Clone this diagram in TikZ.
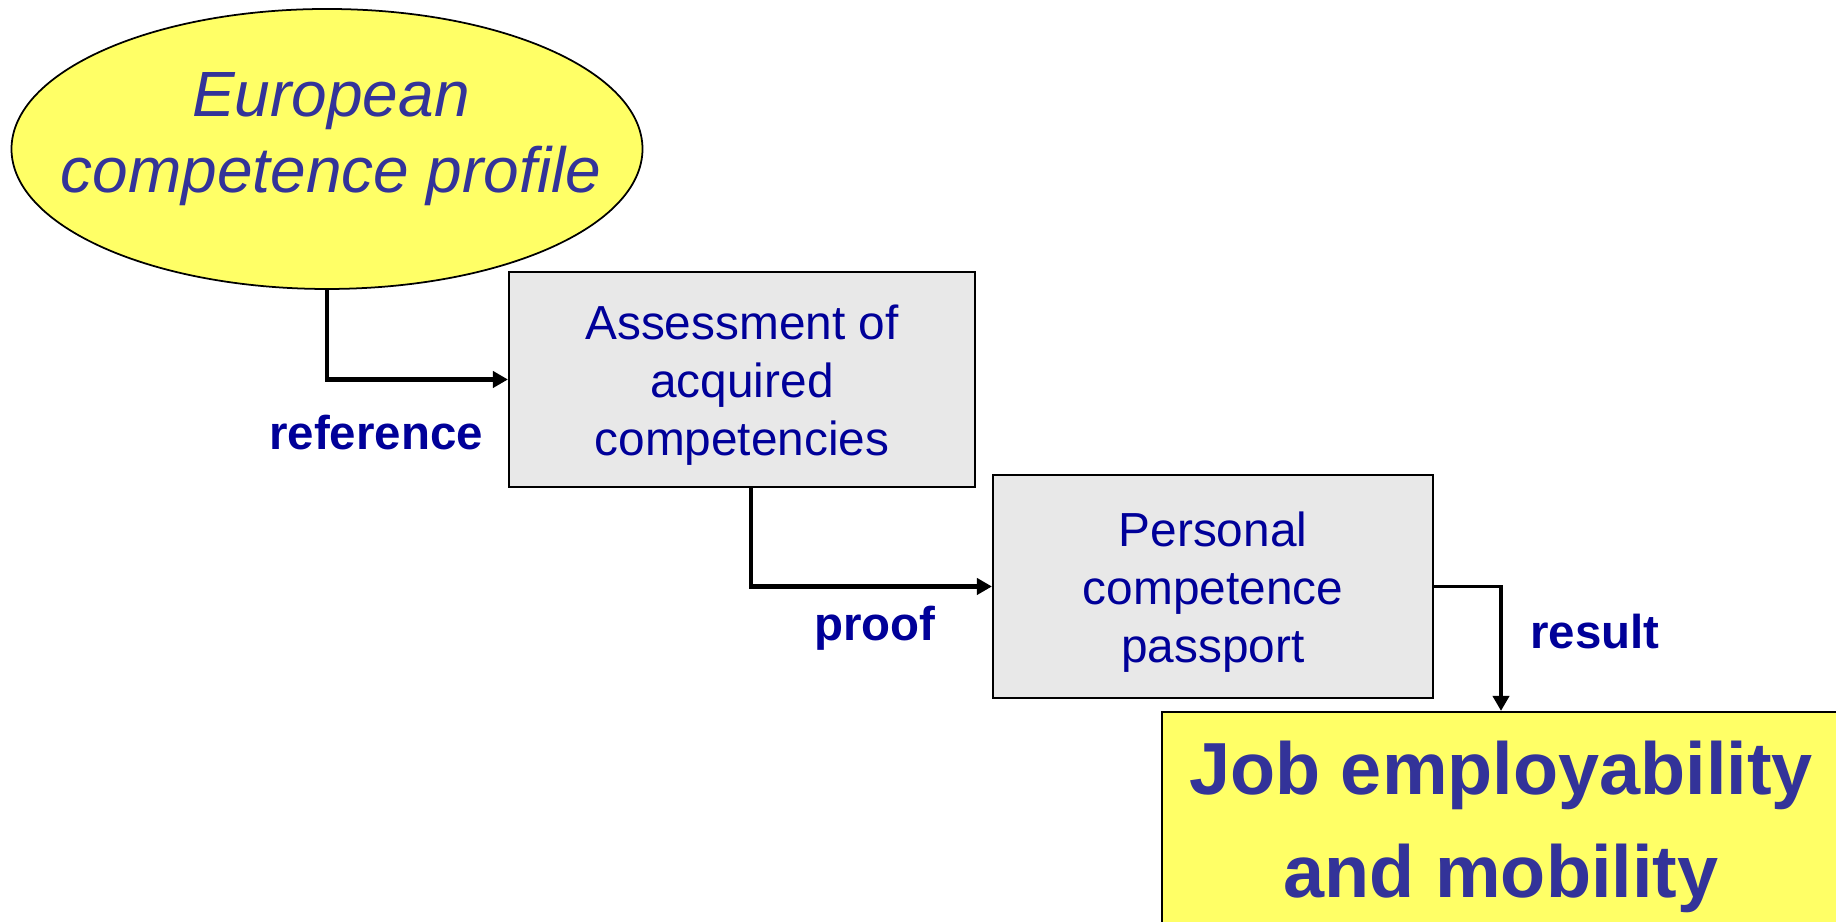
\documentclass[tikz,border=0pt]{standalone}
\usepackage{fontspec}
\setmainfont{Liberation Sans}
\usetikzlibrary{shapes.geometric,arrows.meta}
\definecolor{lightyellow}{HTML}{FFFF66}
\definecolor{boxgray}{HTML}{E8E8E8}
\definecolor{purpleblue}{HTML}{333399}
\definecolor{navy}{HTML}{000099}
\tikzset{
  stage/.style={draw, line width=0.6pt, fill=boxgray, inner sep=0pt},
  stagetext/.style={text=navy, align=center, yshift=-0.06cm,
    font=\fontsize{13.6}{16.5}\selectfont},
  tag/.style={text=navy, font=\fontsize{13.5}{16}\selectfont\bfseries},
  link/.style={line width=1.4pt, -{Triangle[length=4.3pt,width=4.6pt]}}
}
\begin{document}
\begin{tikzpicture}
\useasboundingbox (0,0) rectangle (18.36,9.22);

% profile ellipse
\node[ellipse, draw, line width=0.5pt, fill=lightyellow, minimum width=6.31cm,
  minimum height=2.80cm, inner sep=0pt] (profile) at (3.27,7.73) {};
\node[text=purpleblue, align=center, font=\fontsize{18.2}{21.6}\selectfont\itshape]
  (profiletext) at (3.31,7.83) {European\\competence profile};

% the two steps
\node[stage, minimum width=4.66cm, minimum height=2.15cm,
  label={[stagetext]center:{Assessment of\\acquired\\competencies}}]
  (assess) at (7.42,5.425) {};
\node[stage, minimum width=4.40cm, minimum height=2.23cm,
  label={[stagetext]center:{Personal\\competence\\passport}}]
  (passport) at (12.13,3.355) {};

% outcome (runs off the page)
\node[draw, line width=0.6pt, fill=lightyellow, inner sep=0pt,
  minimum width=6.78cm, minimum height=2.18cm,
  label={[text=purpleblue, align=center, yshift=-0.06cm,
    font=\fontsize{21}{29.3}\selectfont\bfseries]center:{Job employability\\and mobility}}]
  (job) at (15.01,1.01) {};

% connectors
\draw[link] (profile.south) |- (assess.west);
\draw[link] ([xshift=0.09cm]assess.south) |- (passport.west);
\draw[link, line width=1.1pt] (passport.east) -| (job.north);

\node[tag] (reference) at (3.76,4.89) {reference};
\node[tag] (proof) at (8.75,2.94) {proof};
\node[tag] (result) at (15.95,2.90) {result};
\end{tikzpicture}
\end{document}
